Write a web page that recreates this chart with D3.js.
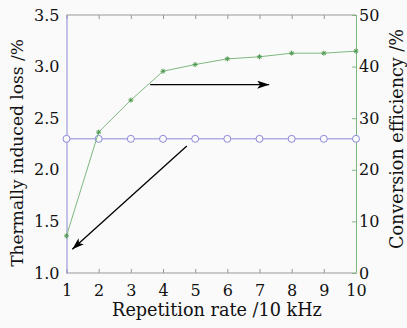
<!DOCTYPE html>
<html><head><meta charset="utf-8">
<script src="https://cdn.jsdelivr.net/npm/d3@7"></script>
<style>html,body{margin:0;padding:0;background:#fafafa;}svg{display:block;}</style>
</head><body>
<script>
const rates = [1,2,3,4,5,6,7,8,9,10];
const thermalLoss = [2.3,2.3,2.3,2.3,2.3,2.3,2.3,2.3,2.3,2.3];
const conversionEff = [7.2,27.3,33.5,39.1,40.4,41.5,41.9,42.6,42.6,43.0];
const leftTicks = [1.0,1.5,2.0,2.5,3.0,3.5];
const rightTicks = [0,10,20,30,40,50];

const W=407,H=328;
const m={l:66.5,r:356,t:15,b:273};
const svg=d3.select("body").append("svg").attr("width",W).attr("height",H).style("background","#fafafa");
const x=d3.scaleLinear().domain([1,10]).range([m.l,m.r]);
const yL=d3.scaleLinear().domain([1,3.5]).range([m.b,m.t]);
const yR=d3.scaleLinear().domain([0,50]).range([m.b,m.t]);
const font="'DejaVu Serif', serif";
const blue="#8a8ad8", green="#7fb77f", grey="#999";

svg.append("line").attr("x1",m.l).attr("x2",m.r).attr("y1",m.t).attr("y2",m.t).attr("stroke",grey).attr("stroke-width",1);
svg.append("line").attr("x1",m.l).attr("x2",m.r).attr("y1",m.b).attr("y2",m.b).attr("stroke",grey).attr("stroke-width",1);

const xb=svg.append("g").attr("transform",`translate(0,${m.b})`)
  .call(d3.axisBottom(x).tickValues(rates).tickSizeInner(-4).tickSizeOuter(0).tickPadding(12).tickFormat(d3.format("d")));
xb.select(".domain").remove();
xb.selectAll("line").attr("stroke",grey);
xb.selectAll("text").attr("font-family",font).attr("font-size",16).attr("fill","#111");
const xt=svg.append("g").attr("transform",`translate(0,${m.t})`)
  .call(d3.axisTop(x).tickValues(rates).tickSizeInner(-4).tickSizeOuter(0).tickFormat(""));
xt.select(".domain").remove();
xt.selectAll("line").attr("stroke",grey);

const yl=svg.append("g").attr("transform",`translate(${m.l},0)`)
  .call(d3.axisLeft(yL).tickValues(leftTicks).tickSize(0).tickPadding(7).tickFormat(d3.format(".1f")));
yl.select(".domain").attr("stroke",blue);
yl.selectAll("text").attr("font-family",font).attr("font-size",16).attr("fill","#111");

const yr=svg.append("g").attr("transform",`translate(${m.r},0)`)
  .call(d3.axisRight(yR).tickValues(rightTicks).tickSizeInner(-4).tickSizeOuter(0).tickPadding(3));
yr.select(".domain").attr("stroke",green);
yr.selectAll("line").attr("stroke",green);
yr.selectAll("text").attr("font-family",font).attr("font-size",16).attr("fill","#111");

const data=rates.map((r,i)=>({r,t:thermalLoss[i],c:conversionEff[i]}));
svg.append("path").datum(data).attr("fill","none").attr("stroke",blue).attr("stroke-width",1)
  .attr("d",d3.line().x(d=>x(d.r)).y(d=>yL(d.t)));
svg.selectAll(".bc").data(data).join("circle").attr("cx",d=>x(d.r)).attr("cy",d=>yL(d.t)).attr("r",3.5)
  .attr("fill","#fafafa").attr("stroke",blue).attr("stroke-width",1);

svg.append("path").datum(data).attr("fill","none").attr("stroke",green).attr("stroke-width",1)
  .attr("d",d3.line().x(d=>x(d.r)).y(d=>yR(d.c)));
svg.selectAll(".gs").data(data).join("g").attr("transform",d=>`translate(${x(d.r)},${yR(d.c)})`)
  .each(function(){
    const g=d3.select(this);
    [[-2.5,0,2.5,0],[0,-2.5,0,2.5],[-1.8,-1.8,1.8,1.8],[-1.8,1.8,1.8,-1.8]].forEach(l=>
      g.append("line").attr("x1",l[0]).attr("y1",l[1]).attr("x2",l[2]).attr("y2",l[3]).attr("stroke","#4f9a4f").attr("stroke-width",1));
  });

const defs=svg.append("defs");
defs.append("marker").attr("id","ah").attr("viewBox","0 0 12 8").attr("refX",12).attr("refY",4)
  .attr("markerWidth",12).attr("markerHeight",8).attr("markerUnits","userSpaceOnUse").attr("orient","auto")
  .append("path").attr("d","M0,0 L12,4 L0,8 L3,4 Z").attr("fill","#000");
svg.append("line").attr("x1",x(3.6)).attr("y1",yR(36.5)).attr("x2",x(7.3)).attr("y2",yR(36.5))
  .attr("stroke","#000").attr("stroke-width",1.3).attr("marker-end","url(#ah)");
svg.append("line").attr("x1",x(4.74)).attr("y1",yL(2.23)).attr("x2",x(1.18)).attr("y2",yL(1.23))
  .attr("stroke","#000").attr("stroke-width",1.3).attr("marker-end","url(#ah)");

function fitText(sel,target){
  const n=sel.node(); const len=n.getComputedTextLength();
  sel.attr("font-size",16*target/len);
}
const xt2=svg.append("text").attr("x",217).attr("y",316).attr("text-anchor","middle")
  .attr("font-family",font).attr("font-size",16).attr("fill","#111").text("Repetition rate /10 kHz");
fitText(xt2,210);
const lt=svg.append("text").attr("transform",`translate(23,153) rotate(-90)`).attr("text-anchor","middle")
  .attr("font-family",font).attr("font-size",16).attr("fill","#111").text("Thermally induced loss /%");
fitText(lt,228);
const rt=svg.append("text").attr("transform",`translate(403,139) rotate(-90)`).attr("text-anchor","middle")
  .attr("font-family",font).attr("font-size",16).attr("fill","#111").text("Conversion efficiency /%");
fitText(rt,220);
</script>
</body></html>
